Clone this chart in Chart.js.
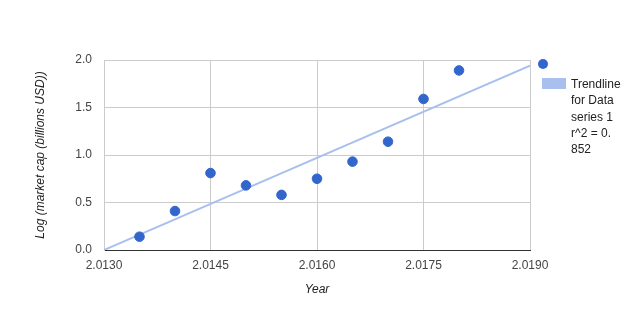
<!DOCTYPE html>
<html>
<head>
<meta charset="utf-8">
<script src="https://cdn.jsdelivr.net/npm/chart.js@4"></script>
<style>
  html, body { margin: 0; padding: 0; background: #fff; }
  #wrap { position: relative; width: 634px; height: 310px; }
  #legend { position: absolute; left: 0; top: 0; font-family: Arial, "Liberation Sans", sans-serif; font-size: 12px; color: #222; }
  .dot { position: absolute; left: 538px; top: 59px; width: 10px; height: 10px; border-radius: 50%; background: #3366cc; }
  .swatch { position: absolute; left: 542px; top: 78px; width: 24px; height: 11px; background: #a9bfee; }
  .txt { position: absolute; left: 571px; top: 76px; width: 60px; line-height: 16.3px; }
</style>
</head>
<body>
<div id="wrap">
  <canvas id="myChart" width="634" height="310"></canvas>
  <div id="legend">
    <div class="dot"></div>
    <div class="swatch"></div>
    <div class="txt">Trendline<br>for Data<br>series 1<br>r^2 = 0.<br>852</div>
  </div>
</div>
<script>
  const years = [2.0135, 2.0140, 2.0145, 2.0150, 2.0155, 2.0160, 2.0165, 2.0170, 2.0175, 2.0180];
  const logCap = [0.14, 0.41, 0.81, 0.68, 0.58, 0.75, 0.93, 1.14, 1.59, 1.89];
  const trendX = [2.0130, 2.0190];
  const trendY = [0.0, 1.94];
  const xTicks = [2.0130, 2.0145, 2.0160, 2.0175, 2.0190];
  const yTicks = [0, 0.5, 1.0, 1.5, 2.0];

  const font = { family: 'Arial, "Liberation Sans", sans-serif', size: 12 };

  const config = {
    type: 'scatter',
    data: {
      datasets: [
        {
          label: 'Data series 1',
          data: years.map((x, i) => ({ x: x, y: logCap[i] })),
          backgroundColor: '#3366cc',
          borderColor: '#3366cc',
          pointRadius: 4.8,
          pointHoverRadius: 4.8,
          order: 1
        },
        {
          label: 'Trendline for Data series 1',
          data: trendX.map((x, i) => ({ x: x, y: trendY[i] })),
          showLine: true,
          borderColor: '#a9bfee',
          borderWidth: 2,
          pointRadius: 0,
          order: 2
        }
      ]
    },
    options: {
      responsive: false,
      animation: false,
      layout: { padding: { top: 60, right: 104, left: 0, bottom: 0 } },
      plugins: { legend: { display: false }, tooltip: { enabled: false } },
      scales: {
        x: {
          type: 'linear',
          min: 2.013,
          max: 2.019,
          afterBuildTicks: (axis) => { axis.ticks = xTicks.map(v => ({ value: v })); },
          afterFit: (axis) => { axis.height = 60; },
          ticks: {
            callback: (v) => v.toFixed(4),
            font: font,
            color: '#444',
            padding: 8,
            maxRotation: 0,
            autoSkip: false
          },
          grid: { color: '#cccccc', drawTicks: false },
          border: { color: '#333333', width: 1 },
          title: {
            display: true,
            text: 'Year',
            font: { family: font.family, size: 12, style: 'italic' },
            color: '#222',
            padding: { top: 0, bottom: 13 }
          }
        },
        y: {
          min: 0,
          max: 2,
          afterBuildTicks: (axis) => { axis.ticks = yTicks.map(v => ({ value: v })); },
          afterFit: (axis) => { axis.width = 104; },
          ticks: {
            callback: (v) => v.toFixed(1),
            font: font,
            color: '#444',
            padding: 12
          },
          grid: { color: '#cccccc', drawTicks: false },
          border: { color: '#cccccc', width: 1 },
          title: {
            display: true,
            text: 'Log (market cap (billions USD))',
            font: { family: font.family, size: 12, style: 'italic' },
            color: '#222',
            padding: { top: 33, bottom: 0 }
          }
        }
      }
    }
  };

  const myChart = new Chart(document.getElementById('myChart'), config);
</script>
</body>
</html>
